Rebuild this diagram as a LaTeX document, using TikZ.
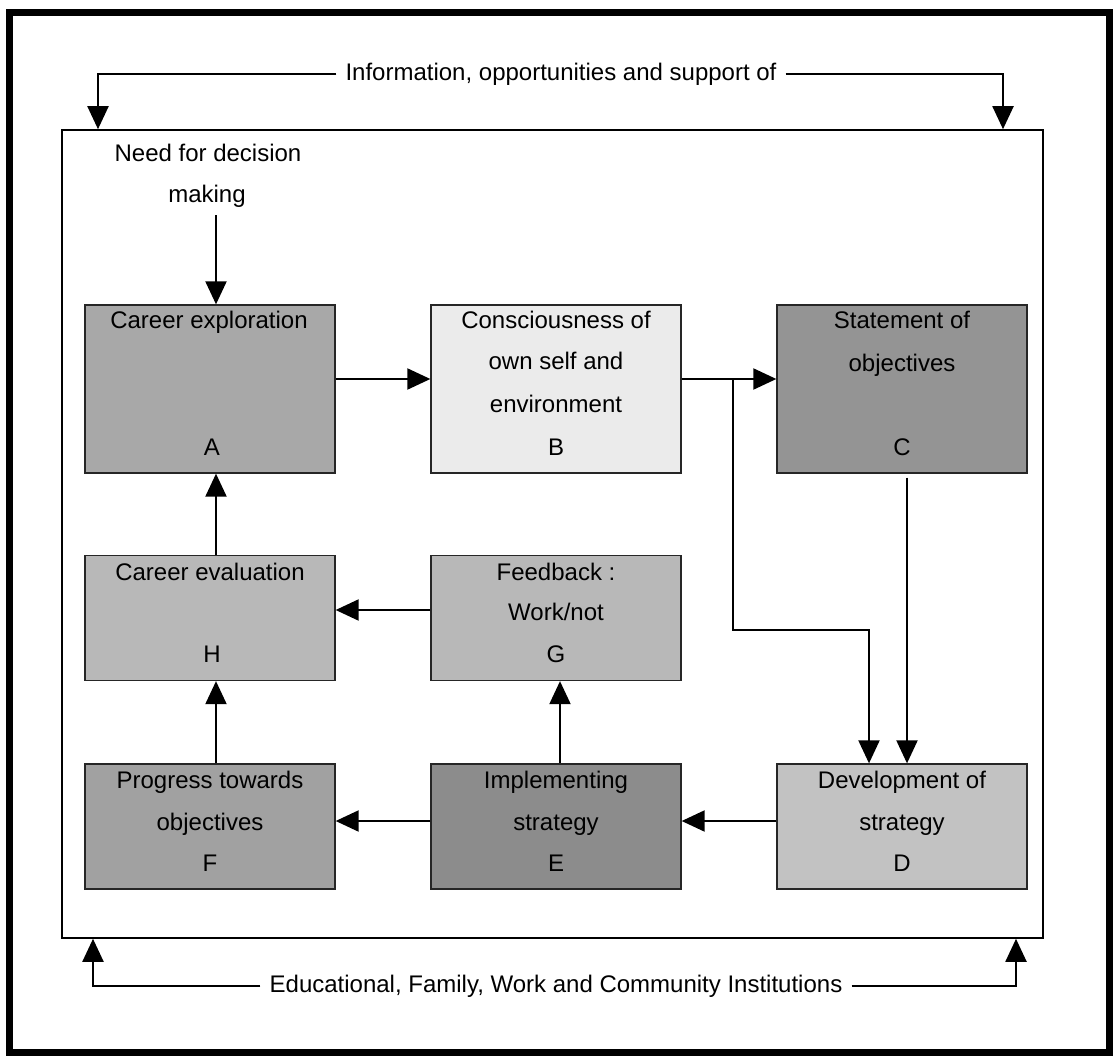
\documentclass[tikz,border=0pt]{standalone}
\usepackage{fontspec}
\setmainfont{Liberation Sans}
\usetikzlibrary{arrows.meta}
\definecolor{gA}{gray}{0.66}
\definecolor{gB}{gray}{0.92}
\definecolor{gC}{gray}{0.58}
\definecolor{gD}{gray}{0.76}
\definecolor{gE}{gray}{0.55}
\definecolor{gF}{gray}{0.63}
\definecolor{gG}{gray}{0.72}
\definecolor{gH}{gray}{0.72}
\begin{document}
\begin{tikzpicture}[x=1pt,y=-1pt,
  stagebox/.style={draw=black!85, line width=1.3pt, rectangle, inner sep=0pt},
  tallbox/.style={stagebox, minimum width=250pt, minimum height=168pt},
  shortbox/.style={stagebox, minimum width=250pt, minimum height=125pt},
  conn/.style={line width=2pt, -{Triangle[width=21pt,length=23pt]}},
  txt/.style={font=\fontsize{24}{41}\selectfont, anchor=base, inner sep=0pt},
  sidetxt/.style={font=\fontsize{24}{41}\selectfont, inner sep=0pt, inner xsep=9pt}
]
\useasboundingbox (0,0) rectangle (1113,1056);
% outer frame
\draw[line width=7pt] (9,13) rectangle (1109,1052);
% inner frame
\node[draw, line width=1.6pt, minimum width=981pt, minimum height=808pt, inner sep=0pt] (inner) at (552.5,534) {};

% boxes
\node[tallbox, fill=gA] (A) at (210,389) {};
\node[tallbox, fill=gB] (B) at (556,389) {};
\node[tallbox, fill=gC] (C) at (902,389) {};
\node[shortbox, fill=gH] (H) at (210,618) {};
\node[shortbox, fill=gG] (G) at (556,618) {};
\node[shortbox, fill=gF] (F) at (210,826.5) {};
\node[shortbox, fill=gE] (E) at (556,826.5) {};
\node[shortbox, fill=gD] (D) at (902,826.5) {};

% box texts
\node[txt] (a1) at (209,329) {Career exploration};
\node[txt] (a2) at (212,455) {A};
\node[txt] (b1) at (556,329) {Consciousness of};
\node[txt] (b2) at (556,370) {own self and};
\node[txt] (b3) at (556,412) {environment};
\node[txt] (b4) at (556,455) {B};
\node[txt] (c1) at (902,329) {Statement of};
\node[txt] (c2) at (902,371) {objectives};
\node[txt] (c3) at (902,455) {C};
\node[txt] (h1) at (210,580) {Career evaluation};
\node[txt] (h2) at (212,662) {H};
\node[txt] (g1) at (556,580) {Feedback :};
\node[txt] (g2) at (556,620) {Work/not};
\node[txt] (g3) at (556,662) {G};
\node[txt] (f1) at (210,788) {Progress towards};
\node[txt] (f2) at (210,830) {objectives};
\node[txt] (f3) at (210,871) {F};
\node[txt] (e1) at (556,788) {Implementing};
\node[txt] (e2) at (556,830) {strategy};
\node[txt] (e3) at (556,871) {E};
\node[txt] (d1) at (902,788) {Development of};
\node[txt] (d2) at (902,830) {strategy};
\node[txt] (d3) at (902,871) {D};

% need for decision making
\node[txt] (need1) at (208,162) {Need for decision};
\node[txt] (need2) at (207,203) {making};
\draw[conn] ([xshift=9pt,yshift=-7pt]need2.south) -- ([xshift=6pt]A.north);

% top and bottom labels
\node[sidetxt] (info) at (561,74) {Information, opportunities and support of};
\node[sidetxt] (edu) at (556,986) {Educational, Family, Work and Community Institutions};
\coordinate (tl) at (98,74);
\coordinate (tr) at (1003,74);
\coordinate (bl) at (93,986);
\coordinate (brr) at (1016,986);
\draw[conn] (info.west) -- (tl) -- (tl |- inner.north);
\draw[conn] (info.east) -- (tr) -- (tr |- inner.north);
\draw[conn] (edu.west) -- (bl) -- (bl |- inner.south);
\draw[conn] (edu.east) -- (brr) -- (brr |- inner.south);

% flow connectors
\draw[conn] (A.east |- 0,379) -- (B.west |- 0,379);
\draw[conn] (B.east |- 0,379) -- (C.west |- 0,379);
\coordinate (br) at (733,379);
\coordinate (bend1) at (733,630);
\coordinate (bend2) at (869,630);
\draw[conn] (br) -- (bend1) -- (bend2) -- (bend2 |- D.north);
\draw[conn] ([xshift=5pt,yshift=-4pt]C.south) -- ([xshift=5pt]D.north);
\draw[conn] (D.west |- 0,821) -- (E.east |- 0,821);
\draw[conn] (E.west |- 0,821) -- (F.east |- 0,821);
\draw[conn] ([xshift=4pt]E.north) -- ([xshift=4pt]G.south);
\draw[conn] (G.west |- 0,610) -- (H.east |- 0,610);
\draw[conn] ([xshift=6pt]F.north) -- ([xshift=6pt]H.south);
\draw[conn] ([xshift=6pt]H.north) -- ([xshift=6pt]A.south);
\end{tikzpicture}
\end{document}
